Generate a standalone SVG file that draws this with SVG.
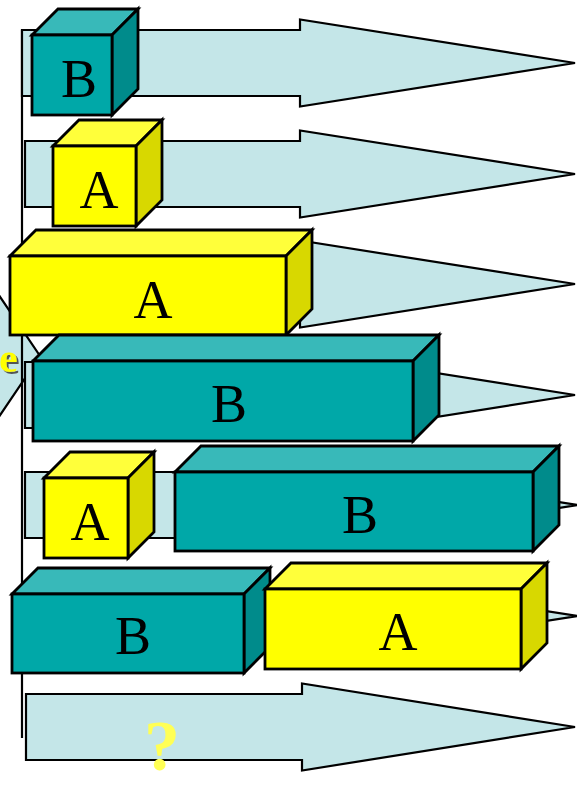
<svg xmlns="http://www.w3.org/2000/svg" width="577" height="785" viewBox="0 0 577 785">
  <style>
    .arrow { fill: #C4E6E8; stroke: #000; stroke-width: 2.2; stroke-linejoin: miter; }
    .edge { stroke: #000; stroke-width: 2.8; stroke-linejoin: miter; }
    .tealFront { fill: #00A8A8; }
    .tealTop { fill: #38B9B9; }
    .tealSide { fill: #008B8B; }
    .yelFront { fill: #FFFF00; }
    .yelTop { fill: #FFFF3A; }
    .yelSide { fill: #D8D800; }
    .lbl { font-family: "Liberation Serif", "Times New Roman", serif; font-size: 54px; fill: #000; text-anchor: middle; }
    .mark { font-family: "Liberation Serif", "Times New Roman", serif; font-weight: bold; }
  </style>
  <defs>
    <filter id="textShadow" x="-50%" y="-50%" width="200%" height="200%">
      <feDropShadow dx="2" dy="2" stdDeviation="0.6" flood-color="#444" flood-opacity="0.9"/>
    </filter>
  </defs>

  <!-- side label chevron, mostly outside the canvas -->
  <g id="side-label">
    <polygon class="arrow" points="-12,279 40,356 -12,433"/>
    <text class="mark" x="-1" y="372" font-size="42" fill="#FFFF00" filter="url(#textShadow)">e</text>
  </g>

  <!-- timeline rows -->
  <g id="connectors">
    <line x1="22" y1="30" x2="22" y2="738" stroke="#000" stroke-width="2.2"/>
    <polygon class="arrow" points="22,30 300,30 300,19.5 575,63 300,106.5 300,96 22,96"/>
    <polygon class="arrow" points="25,141 300,141 300,130.5 575,174 300,217.5 300,207 25,207"/>
    <polygon class="arrow" points="25,251 300,251 300,240.5 575,284 300,327.5 300,317 25,317"/>
    <polygon class="arrow" points="25,362 300,362 300,351.5 575,395 300,438.5 300,428 25,428"/>
    <polygon class="arrow" points="25,472 300,472 300,461.5 578,505 300,548.5 300,538 25,538"/>
    <polygon class="arrow" points="25,583 300,583 300,572.5 578,616 300,659.5 300,649 25,649"/>
    <polygon class="arrow" points="26,694 302,694 302,683.5 575,727 302,770.5 302,760 26,760"/>
  </g>

  <!-- row 1 -->
  <g id="row1-b">
    <polygon class="tealTop edge" points="32,35 58,9 138,9 112,35"/>
    <polygon class="tealSide edge" points="112,35 138,9 138,89 112,115"/>
    <rect class="tealFront edge" x="32" y="35" width="80" height="80"/>
    <text class="lbl" x="79" y="97">B</text>
  </g>

  <!-- row 2 -->
  <g id="row2-a">
    <polygon class="yelTop edge" points="53,146 79,120 162,120 136,146"/>
    <polygon class="yelSide edge" points="136,146 162,120 162,200 136,226"/>
    <rect class="yelFront edge" x="53" y="146" width="83" height="80"/>
    <text class="lbl" x="99" y="208">A</text>
  </g>

  <!-- row 3 -->
  <g id="row3-a">
    <polygon class="yelTop edge" points="10,256 36,230 312,230 286,256"/>
    <polygon class="yelSide edge" points="286,256 312,230 312,309 286,335"/>
    <rect class="yelFront edge" x="10" y="256" width="276" height="79"/>
    <text class="lbl" x="153" y="318">A</text>
  </g>

  <!-- row 4 -->
  <g id="row4-b">
    <polygon class="tealTop edge" points="33,361 59,335 439,335 413,361"/>
    <polygon class="tealSide edge" points="413,361 439,335 439,415 413,441"/>
    <rect class="tealFront edge" x="33" y="361" width="380" height="80"/>
    <text class="lbl" x="229" y="422">B</text>
  </g>

  <!-- row 5 -->
  <g id="row5-a">
    <polygon class="yelTop edge" points="44,478 70,452 154,452 128,478"/>
    <polygon class="yelSide edge" points="128,478 154,452 154,532 128,558"/>
    <rect class="yelFront edge" x="44" y="478" width="84" height="80"/>
    <text class="lbl" x="90" y="540">A</text>
  </g>
  <g id="row5-b">
    <polygon class="tealTop edge" points="175,472 201,446 559,446 533,472"/>
    <polygon class="tealSide edge" points="533,472 559,446 559,525 533,551"/>
    <rect class="tealFront edge" x="175" y="472" width="358" height="79"/>
    <text class="lbl" x="360" y="533">B</text>
  </g>

  <!-- row 6 -->
  <g id="row6-b">
    <polygon class="tealTop edge" points="12,594 38,568 270,568 244,594"/>
    <polygon class="tealSide edge" points="244,594 270,568 270,647 244,673"/>
    <rect class="tealFront edge" x="12" y="594" width="232" height="79"/>
    <text class="lbl" x="133" y="654">B</text>
  </g>
  <g id="row6-a">
    <polygon class="yelTop edge" points="265,589 291,563 547,563 521,589"/>
    <polygon class="yelSide edge" points="521,589 547,563 547,643 521,669"/>
    <rect class="yelFront edge" x="265" y="589" width="256" height="80"/>
    <text class="lbl" x="398" y="650">A</text>
  </g>

  <!-- row 7 -->
  <g id="row7-unknown">
    <text class="mark" x="162" y="770" font-size="72" fill="#FFFF55" text-anchor="middle">?</text>
  </g>
</svg>
